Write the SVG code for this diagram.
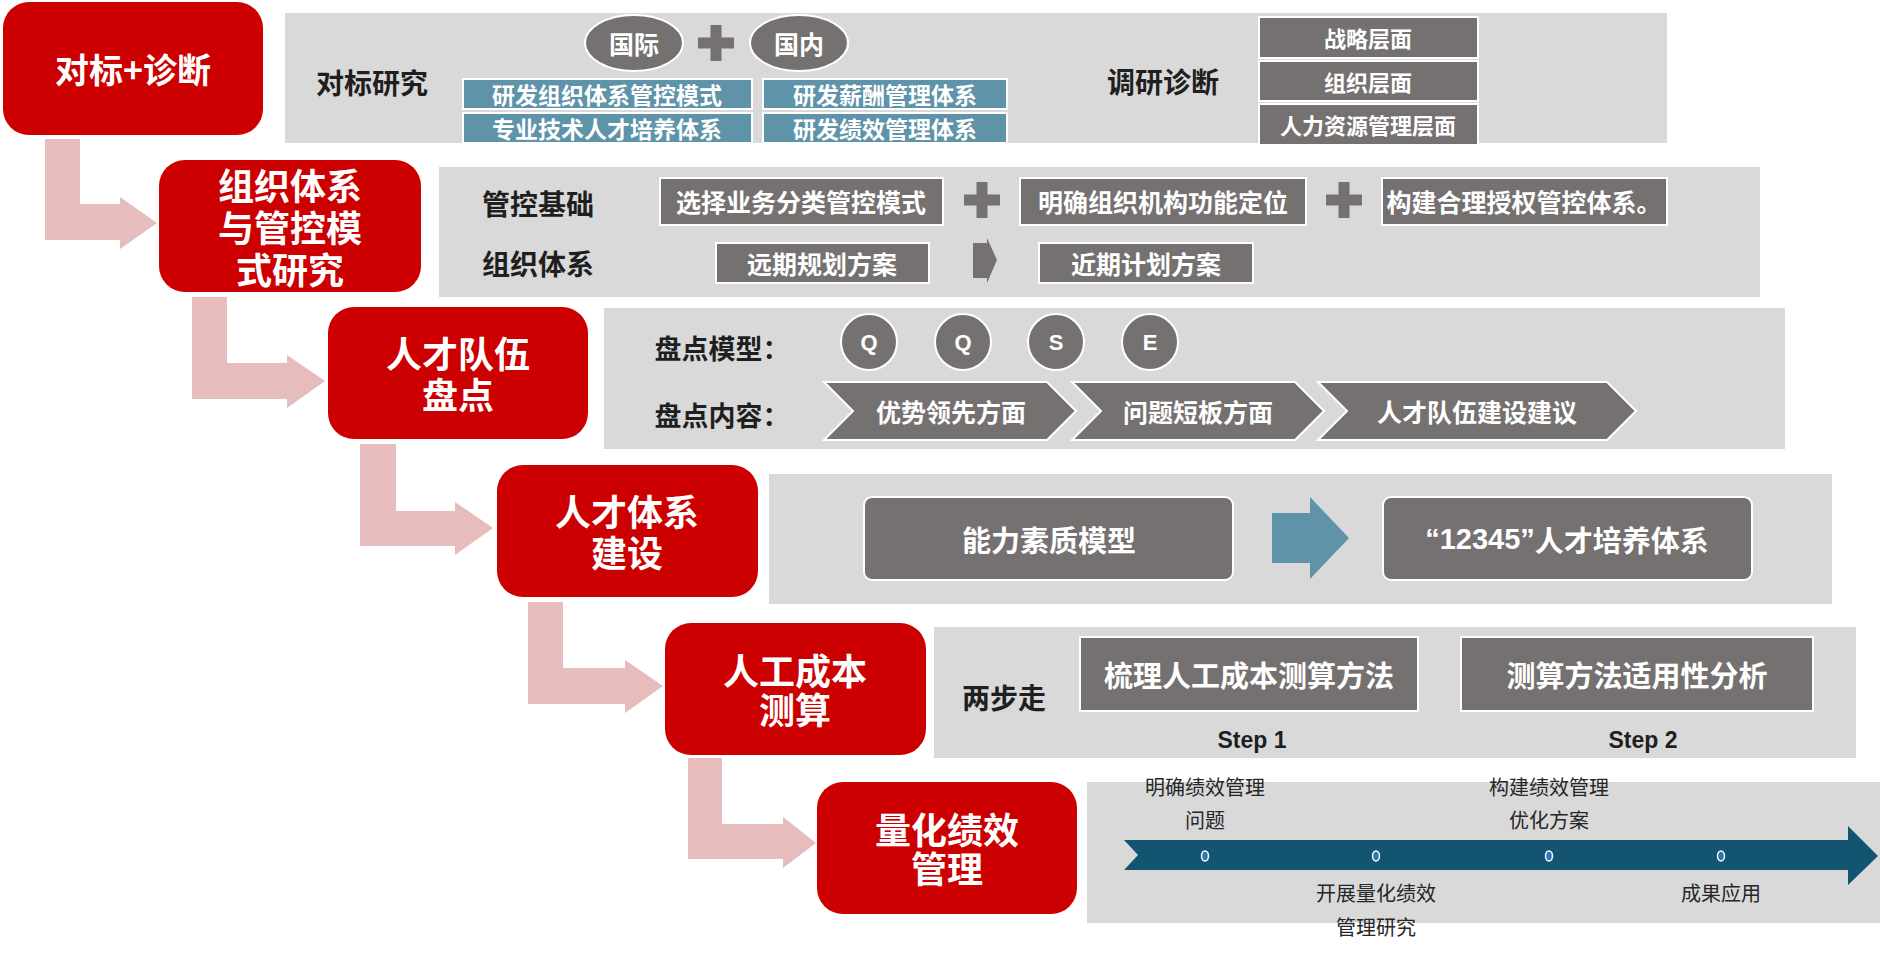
<svg xmlns="http://www.w3.org/2000/svg" xmlns:xlink="http://www.w3.org/1999/xlink" width="1880" height="960" viewBox="0 0 1880 960">
<defs>
<style>
.red{fill:#cc0000}
.pink{fill:#e6bcbc}
.panel{fill:#d9d9d9}
.gbox{fill:#767171;stroke:#ffffff;stroke-width:2}
.bbox{fill:#5e93a9;stroke:#ffffff;stroke-width:2}
.gfill{fill:#767171}
text{font-family:'Noto Sans CJK SC','Microsoft YaHei',sans-serif;text-anchor:middle;dominant-baseline:central}
.th{font-size:36px;font-weight:bold;fill:#ffffff}
.lbl{font-size:28px;font-weight:bold;fill:#1f1f1f}
.wt{font-weight:bold;fill:#ffffff}
.en{font-family:'Liberation Sans',Arial,sans-serif;font-weight:bold}
.tl{font-size:20px;fill:#262626}
</style>
<path id="plus" d="M-5.5,-18 h11 v12.5 h12.5 v11 h-12.5 v12.5 h-11 v-12.5 h-12.5 v-11 h12.5 Z" class="gfill"/>
</defs>
<rect width="1880" height="960" fill="#ffffff"/>

<g id="connectors">
<path class="pink" d="M45,139 H80 V204 H120 V197 L157,223 L120,249 V240 H45 Z"/>
<path class="pink" d="M192,297 H227 V363 H287 V355 L325,381 L287,408 V399 H192 Z"/>
<path class="pink" d="M360,444 H396 V511 H455 V502 L493,528 L455,555 V546 H360 Z"/>
<path class="pink" d="M528,602 H563 V668 H625 V660 L663,686 L625,713 V704 H528 Z"/>
<path class="pink" d="M688,758 H722 V824 H783 V817 L816,843 L783,868 V859 H688 Z"/>
</g>

<g id="step1">
<rect class="red" x="3" y="2" width="260" height="133" rx="26"/>
<text class="th" x="133" y="68" style="font-size:34px">对标+诊断</text>
</g>
<g id="panel1">
<rect class="panel" x="285" y="13" width="1382" height="130"/>
<text class="lbl" x="372" y="82">对标研究</text>
<ellipse class="gbox" cx="634" cy="43" rx="49" ry="28" stroke-width="2.5"/>
<text class="wt" x="634" y="43" font-size="25">国际</text>
<use xlink:href="#plus" x="716" y="43"/>
<ellipse class="gbox" cx="799" cy="43" rx="49" ry="28" stroke-width="2.5"/>
<text class="wt" x="799" y="43" font-size="25">国内</text>
<rect class="bbox" x="463" y="79" width="289" height="30"/>
<text class="wt" x="607" y="94" font-size="23">研发组织体系管控模式</text>
<rect class="bbox" x="463" y="113" width="289" height="30"/>
<text class="wt" x="607" y="128" font-size="23">专业技术人才培养体系</text>
<rect class="bbox" x="763" y="79" width="244" height="30"/>
<text class="wt" x="885" y="94" font-size="23">研发薪酬管理体系</text>
<rect class="bbox" x="763" y="113" width="244" height="30"/>
<text class="wt" x="885" y="128" font-size="23">研发绩效管理体系</text>
<text class="lbl" x="1163" y="81">调研诊断</text>
<rect class="gbox" x="1259" y="17" width="219" height="41"/>
<text class="wt" x="1368" y="37" font-size="22">战略层面</text>
<rect class="gbox" x="1259" y="61" width="219" height="40"/>
<text class="wt" x="1368" y="81" font-size="22">组织层面</text>
<rect class="gbox" x="1259" y="104" width="219" height="41"/>
<text class="wt" x="1368" y="124" font-size="22">人力资源管理层面</text>
</g>

<g id="step2">
<rect class="red" x="159" y="160" width="262" height="132" rx="26"/>
<text class="th" x="290" y="184">组织体系<tspan x="290" dy="42">与管控模</tspan><tspan x="290" dy="42">式研究</tspan></text>
</g>
<g id="panel2">
<rect class="panel" x="439" y="167" width="1321" height="130"/>
<text class="lbl" x="538" y="203">管控基础</text>
<text class="lbl" x="538" y="263">组织体系</text>
<rect class="gbox" x="660" y="178" width="283" height="47"/>
<text class="wt" x="801" y="201" font-size="25">选择业务分类管控模式</text>
<use xlink:href="#plus" x="982" y="200"/>
<rect class="gbox" x="1020" y="178" width="286" height="47"/>
<text class="wt" x="1163" y="201" font-size="25">明确组织机构功能定位</text>
<use xlink:href="#plus" x="1344" y="200"/>
<rect class="gbox" x="1382" y="178" width="285" height="47"/>
<text class="wt" x="1524" y="201" font-size="25">构建合理授权管控体系。</text>
<rect class="gbox" x="716" y="243" width="213" height="40"/>
<text class="wt" x="822" y="263" font-size="25">远期规划方案</text>
<path class="gfill" d="M973,243 H987 V238 L997,260 L987,283 V278 H973 Z"/>
<rect class="gbox" x="1039" y="243" width="214" height="40"/>
<text class="wt" x="1146" y="263" font-size="25">近期计划方案</text>
</g>

<g id="step3">
<rect class="red" x="328" y="307" width="260" height="132" rx="26"/>
<text class="th" x="458" y="352">人才队伍<tspan x="458" dy="41">盘点</tspan></text>
</g>
<g id="panel3">
<rect class="panel" x="604" y="308" width="1181" height="141"/>
<text class="lbl" x="722" y="347" style="font-size:27px">盘点模型：</text>
<text class="lbl" x="722" y="414" style="font-size:27px">盘点内容：</text>
<ellipse class="gbox" cx="869" cy="342" rx="28" ry="28"/>
<text class="wt en" x="869" y="342" font-size="22">Q</text>
<ellipse class="gbox" cx="963" cy="342" rx="28" ry="28"/>
<text class="wt en" x="963" y="342" font-size="22">Q</text>
<ellipse class="gbox" cx="1056" cy="342" rx="28" ry="28"/>
<text class="wt en" x="1056" y="342" font-size="22">S</text>
<ellipse class="gbox" cx="1150" cy="342" rx="28" ry="28"/>
<text class="wt en" x="1150" y="342" font-size="22">E</text>
<path class="gbox" d="M824,382 H1047 L1076,411 L1047,440 H824 L853,411 Z"/>
<text class="wt" x="951" y="411" font-size="25">优势领先方面</text>
<path class="gbox" d="M1072,382 H1295 L1324,411 L1295,440 H1072 L1101,411 Z"/>
<text class="wt" x="1198" y="411" font-size="25">问题短板方面</text>
<path class="gbox" d="M1318,382 H1607 L1636,411 L1607,440 H1318 L1347,411 Z"/>
<text class="wt" x="1477" y="411" font-size="25">人才队伍建设建议</text>
</g>

<g id="step4">
<rect class="red" x="497" y="465" width="261" height="132" rx="26"/>
<text class="th" x="627" y="510">人才体系<tspan x="627" dy="41">建设</tspan></text>
</g>
<g id="panel4">
<rect class="panel" x="769" y="474" width="1063" height="130"/>
<rect class="gbox" x="864" y="497" width="369" height="83" rx="8"/>
<text class="wt" x="1049" y="539" font-size="29">能力素质模型</text>
<path fill="#5e93a9" d="M1272,513 H1310 V497 L1349,538 L1310,579 V563 H1272 Z"/>
<rect class="gbox" x="1383" y="497" width="369" height="83" rx="8"/>
<text class="wt" x="1567" y="539" font-size="29"><tspan class="en">“12345”</tspan>人才培养体系</text>
</g>

<g id="step5">
<rect class="red" x="665" y="623" width="261" height="132" rx="26"/>
<text class="th" x="795" y="669">人工成本<tspan x="795" dy="39">测算</tspan></text>
</g>
<g id="panel5">
<rect class="panel" x="934" y="627" width="922" height="131"/>
<text class="lbl" x="1004" y="697">两步走</text>
<rect class="gbox" x="1080" y="637" width="338" height="74"/>
<text class="wt" x="1249" y="674" font-size="29">梳理人工成本测算方法</text>
<rect class="gbox" x="1461" y="637" width="352" height="74"/>
<text class="wt" x="1637" y="674" font-size="29">测算方法适用性分析</text>
<text class="en" x="1252" y="740" font-size="23" fill="#1f1f1f">Step 1</text>
<text class="en" x="1643" y="740" font-size="23" fill="#1f1f1f">Step 2</text>
</g>

<g id="step6">
<rect class="red" x="817" y="782" width="260" height="132" rx="26"/>
<text class="th" x="947" y="828">量化绩效<tspan x="947" dy="39">管理</tspan></text>
</g>
<g id="panel6">
<rect class="panel" x="1087" y="782" width="793" height="141"/>
<path fill="#135571" d="M1124,840 H1848 V826 L1878,856 L1848,885 V870 H1124 L1138,855 Z"/>
<ellipse cx="1205" cy="856" rx="3.5" ry="5" fill="#2e75b6" stroke="#ffffff" stroke-width="1.5"/>
<ellipse cx="1376" cy="856" rx="3.5" ry="5" fill="#2e75b6" stroke="#ffffff" stroke-width="1.5"/>
<ellipse cx="1549" cy="856" rx="3.5" ry="5" fill="#2e75b6" stroke="#ffffff" stroke-width="1.5"/>
<ellipse cx="1721" cy="856" rx="3.5" ry="5" fill="#2e75b6" stroke="#ffffff" stroke-width="1.5"/>
<text class="tl" x="1205" y="786">明确绩效管理<tspan x="1205" dy="33">问题</tspan></text>
<text class="tl" x="1549" y="786">构建绩效管理<tspan x="1549" dy="33">优化方案</tspan></text>
<text class="tl" x="1376" y="892">开展量化绩效<tspan x="1376" dy="34">管理研究</tspan></text>
<text class="tl" x="1721" y="892">成果应用</text>
</g>
</svg>
